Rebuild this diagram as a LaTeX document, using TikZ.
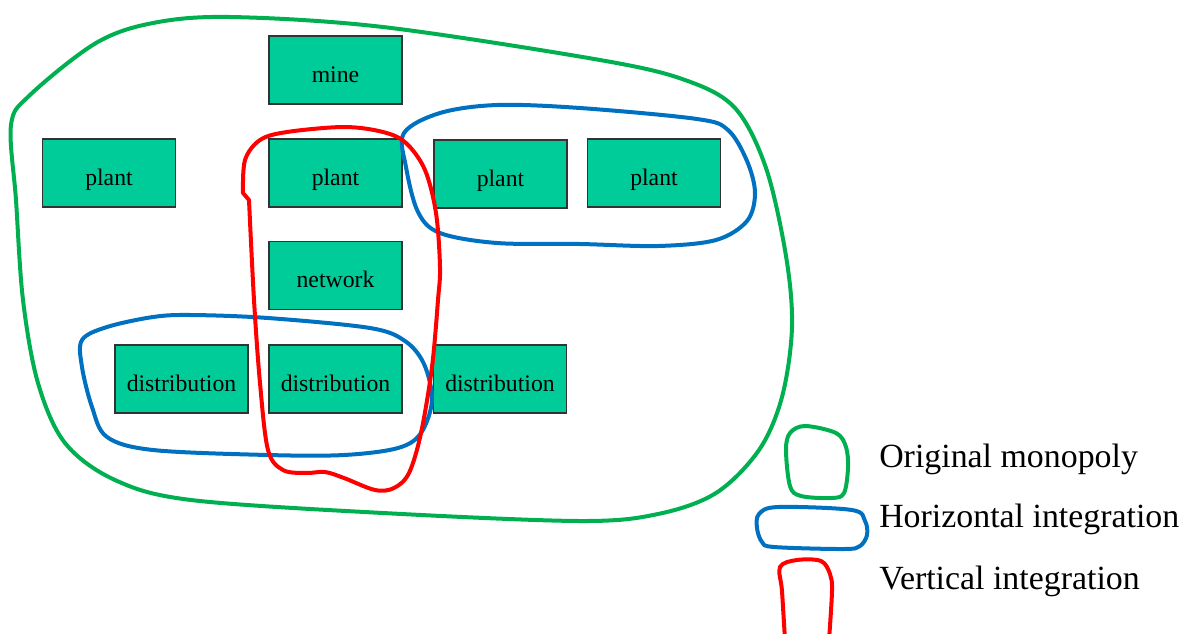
\documentclass[tikz,border=0pt]{standalone}
\usepackage{fontspec}
\setmainfont{Liberation Serif}
\definecolor{boxgreen}{HTML}{00CC99}
\definecolor{lgreen}{HTML}{00B050}
\definecolor{lblue}{HTML}{0070C0}
\definecolor{lred}{HTML}{FF0000}

\begin{document}
\begin{tikzpicture}[x=0.75pt, y=-0.75pt,
    unit/.style={draw=black!80, line width=0.8pt, fill=boxgreen, minimum width=99.75pt, minimum height=51pt, inner sep=0pt, text height=18.5pt, text depth=0pt, font=\fontsize{17.8}{20}\selectfont},
    hand/.style={line width=3pt, line join=round, line cap=round},
    key/.style={anchor=west, inner sep=0pt, font=\fontsize{25.4}{28}\selectfont}]
            \useasboundingbox (0,0) rectangle (1189,633);

            % firms
            \node[unit] (mine) at (335.5,70) {mine};
            \node[unit] (plantA) at (109,173) {plant};
            \node[unit] (plantB) at (335.5,173) {plant};
            \node[unit] (plantC) at (500.5,174) {plant};
            \node[unit] (plantD) at (654,173) {plant};
            \node[unit] (network) at (335.5,275.5) {network};
            \node[unit] (distA) at (181.5,379) {distribution};
            \node[unit] (distB) at (335.5,379) {distribution};
            \node[unit] (distC) at (500,379) {distribution};

            % original monopoly
            \draw[hand, lgreen] plot[smooth cycle, tension=0.55] coordinates {(11,125) (30,95) (96,43) (153,23) (230,17) (383,27) (600,60) (685,80) (735,108) (766,168) (786,256) (792,327) (782,397) (759,450) (716,493) (658,514) (580,521) (383,513) (191,500) (115,480) (65,443) (38,383) (23,300) (16,200)};

            % horizontal integration
            \draw[hand, lblue] plot[smooth cycle, tension=0.55] coordinates {(404,133) (440,113) (497,105) (580,108) (697,119) (728,130) (747,161) (755,193) (747,221) (716,240) (658,246) (580,244) (497,243) (440,233) (418,212) (406,167)};
            \draw[hand, lblue] plot[smooth cycle, tension=0.55] coordinates {(82,340) (107,327) (153,317) (191,315) (268,318) (370,328) (405,341) (424,364) (432,400) (421,433) (398,448) (344,455) (268,455) (153,450) (107,437) (92,407) (82,367)};

            % vertical integration
            \draw[hand, lred] plot[smooth, tension=0.55] coordinates {(249,200) (254,300) (260,383) (268,450) (283,470) (306,473) (325,472) (344,478) (375,490) (394,488) (409,473) (421,433) (432,367) (438,300) (440,267) (436,213) (425,170) (406,143) (383,132) (344,127) (287,132) (260,140) (245,160) (243,193)} -- cycle;

            % legend
            \draw[hand, lgreen] plot[smooth cycle, tension=0.55] coordinates {(790,433) (805,426) (836,433) (846,447) (848,468) (844,493) (832,498) (801,496) (790,486) (786,450)};
            \draw[hand, lblue] plot[smooth cycle, tension=0.55] coordinates {(759,514) (778,507) (852,510) (865,521) (867,535) (860,546) (844,549) (774,547) (762,542) (757,528)};
            \draw[hand, lred] plot[smooth, tension=0.55] coordinates {(785,640) (782,591) (780,567) (797,560) (821,561) (830,574) (832,591) (829,640)};
            \node[key] (keyA) at (879,459) {Original monopoly};
            \node[key] (keyB) at (879,519) {Horizontal integration};
            \node[key] (keyC) at (879,581) {Vertical integration};

        \end{tikzpicture}
\end{document}
